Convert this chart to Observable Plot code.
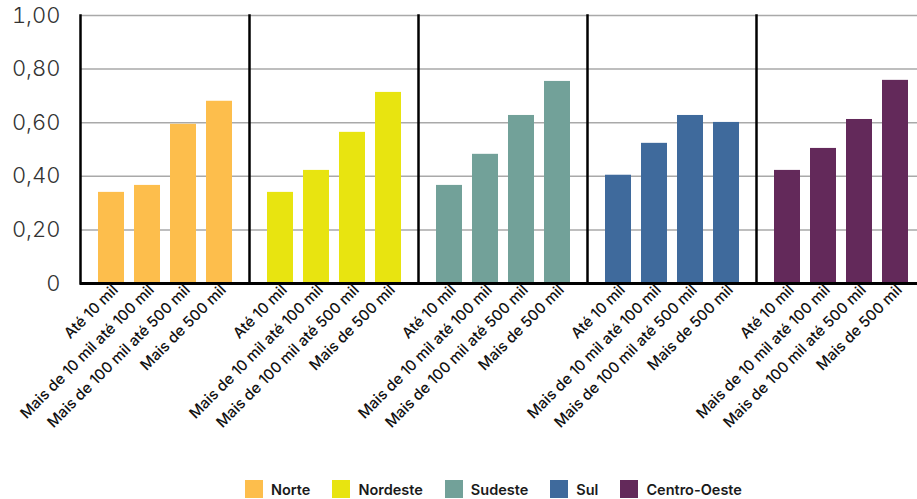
<!DOCTYPE html>
<html>
<head>
<meta charset="utf-8">
<script src="https://cdn.jsdelivr.net/npm/d3@7"></script>
<script src="https://cdn.jsdelivr.net/npm/@observablehq/plot@0.6"></script>
<style>
  html, body { margin: 0; padding: 0; background: #fff; }
  #chart { position: relative; width: 917px; height: 499px; overflow: hidden; }
  #chart svg { display: block; overflow: visible; }
  .legend { position: absolute; left: 245px; top: 480px; display: flex; align-items: center;
    font-family: Inter, "Open Sans", sans-serif; font-weight: 600; font-size: 14.5px; color: #1a1a1a; }
  .legend .item { display: flex; align-items: center; margin-right: 22px; }
  .legend .sw { width: 18px; height: 18px; margin-right: 8px; }
</style>
</head>
<body>
<div id="chart"></div>
<script>
// Regions (facets) and municipality size classes (bars within each facet)
const regions = ["Norte", "Nordeste", "Sudeste", "Sul", "Centro-Oeste"];
const sizes = ["Até 10 mil", "Mais de 10 mil até 100 mil", "Mais de 100 mil até 500 mil", "Mais de 500 mil"];
const regionColors = ["#fdbe4c", "#e8e410", "#72a199", "#3f6a9c", "#63295a"];

// Index value per size class, one array per region
const norte = [0.34, 0.366, 0.594, 0.68];
const nordeste = [0.34, 0.422, 0.564, 0.713];
const sudeste = [0.366, 0.482, 0.627, 0.754];
const sul = [0.404, 0.523, 0.627, 0.601];
const centroOeste = [0.422, 0.504, 0.612, 0.758];

const yTicks = [0, 0.2, 0.4, 0.6, 0.8, 1.0];

const series = [norte, nordeste, sudeste, sul, centroOeste];
const rows = regions.flatMap((r, i) => sizes.map((s, j) => ({region: r, size: s, value: series[i][j]})));

const fmt = d => d === 0 ? "0" : d.toFixed(2).replace(".", ",");

const plot = Plot.plot({
  width: 917,
  height: 470,
  marginLeft: 79,
  marginRight: -8,
  marginTop: 15,
  marginBottom: 187,
  style: {fontFamily: "Inter, 'Open Sans', sans-serif", background: "transparent"},
  fx: {domain: regions, padding: 0, axis: null},
  x: {domain: sizes, paddingInner: 0.29, paddingOuter: 0.45, axis: null},
  y: {domain: [0, 1], axis: null},
  color: {domain: regions, range: regionColors},
  marks: [
    Plot.gridY(yTicks, {stroke: "#a9a9a9", strokeOpacity: 1, strokeWidth: 1.5}),
    Plot.barY(rows, {fx: "region", x: "size", y: "value", fill: "region"}),
    Plot.frame({anchor: "left", stroke: "#000", strokeWidth: 2.5}),
    Plot.ruleY([0], {stroke: "#000", strokeWidth: 3}),
    Plot.axisY(yTicks, {tickSize: 0, tickPadding: 20, tickFormat: fmt, fontSize: 22, fontWeight: 300, fill: "#333", label: null}),
    Plot.axisX({tickSize: 0, tickPadding: 4, tickRotate: -45, fontSize: 15, fontWeight: 500, fill: "#111", dx: 4, label: null})
  ]
});

const chart = document.getElementById("chart");
chart.appendChild(plot);

// Legend of regions
const legend = document.createElement("div");
legend.className = "legend";
regions.forEach((r, i) => {
  const item = document.createElement("div");
  item.className = "item";
  const sw = document.createElement("span");
  sw.className = "sw";
  sw.style.background = regionColors[i];
  const label = document.createElement("span");
  label.textContent = r;
  item.appendChild(sw);
  item.appendChild(label);
  legend.appendChild(item);
});
chart.appendChild(legend);
</script>
</body>
</html>
